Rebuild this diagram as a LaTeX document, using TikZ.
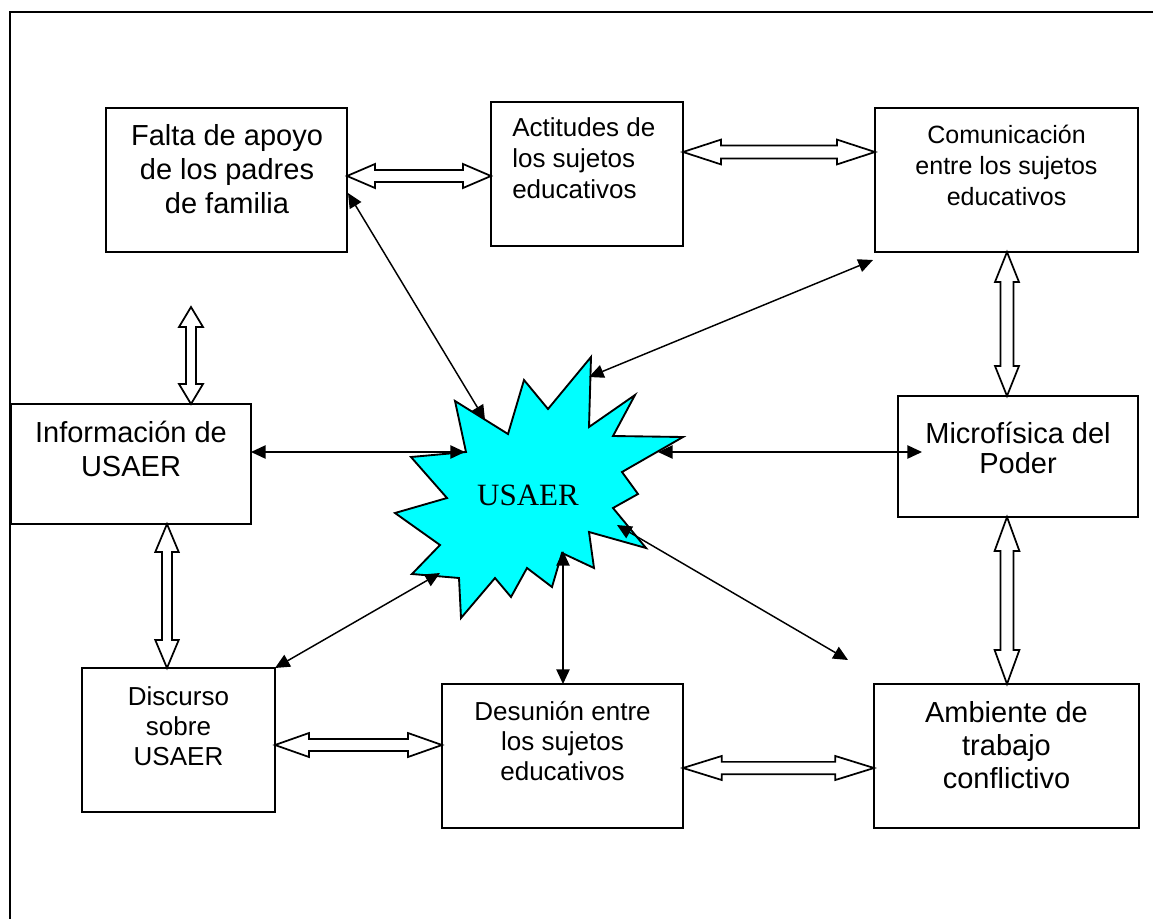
\documentclass[tikz,border=0pt]{standalone}
\usepackage{fontspec}
\setmainfont{Liberation Sans}
\newfontfamily\serifusa{Liberation Serif}
\usetikzlibrary{calc,arrows.meta}
\definecolor{burstcyan}{RGB}{0,255,255}
% horizontal hollow double arrow: #1 left point, #2 right point, #3 head length, #4 head half width, #5 shaft half width
\newcommand\dblH[5]{\draw[blockar] let \p1=(#1), \p2=(#2) in (\x1,\y1) -- (\x1+#3,\y1+#4) -- (\x1+#3,\y1+#5) -- (\x2-#3,\y1+#5) -- (\x2-#3,\y1+#4) -- (\x2,\y1) -- (\x2-#3,\y1-#4) -- (\x2-#3,\y1-#5) -- (\x1+#3,\y1-#5) -- (\x1+#3,\y1-#4) -- cycle;}
% vertical hollow double arrow: #1 top point, #2 bottom point
\newcommand\dblV[5]{\draw[blockar] let \p1=(#1), \p2=(#2) in (\x1,\y1) -- (\x1+#4,\y1-#3) -- (\x1+#5,\y1-#3) -- (\x1+#5,\y2+#3) -- (\x1+#4,\y2+#3) -- (\x1,\y2) -- (\x1-#4,\y2+#3) -- (\x1-#5,\y2+#3) -- (\x1-#5,\y1-#3) -- (\x1-#4,\y1-#3) -- cycle;}
\tikzset{
  box/.style={draw, line width=1.3pt, inner sep=0pt, outer sep=0pt},
  blockar/.style={draw, fill=white, line width=1.3pt, line join=miter},
  link/.style={line width=1.1pt, {Triangle[length=11pt,width=10pt]}-{Triangle[length=11pt,width=10pt]}},
  burst/.style={draw, fill=burstcyan, line width=1.4pt, line join=miter},
  big/.style={font=\fontsize{21.75}{25.5}\selectfont, align=center, anchor=base, inner sep=0pt},
  mid/.style={font=\fontsize{19.5}{22.5}\selectfont, align=center, anchor=base, inner sep=0pt},
}
\begin{document}
\begin{tikzpicture}[x=0.75pt, y=-0.75pt]
\useasboundingbox (0,0) rectangle (1153,918);
% outer frame
\draw[line width=1.5pt] (10,930) -- (10,12) -- (1165,12);

% boxes
\node[box, minimum width=180.75pt, minimum height=108pt] (falta) at (226.5,180) {};
\node[box, minimum width=144pt,    minimum height=108pt] (actit) at (587,174) {};
\node[box, minimum width=197.25pt, minimum height=108pt] (comun) at (1006.5,180) {};
\node[box, minimum width=180pt,    minimum height=90pt]  (info)  at (131,464) {};
\node[box, minimum width=180pt,    minimum height=90.75pt] (micro) at (1018,456.5) {};
\node[box, minimum width=144.75pt, minimum height=108pt] (disc)  at (178.5,740) {};
\node[box, minimum width=180.75pt, minimum height=108pt] (desun) at (562.5,756) {};
\node[box, minimum width=198.75pt, minimum height=108pt] (amb)   at (1006.5,756) {};

% texts (anchor = baseline of the last line)
\node[big] (falta-t) at (227,213) {Falta de apoyo\\de los padres\\de familia};
\node[font=\fontsize{19.5}{23.25}\selectfont, align=left, anchor=base west, inner sep=0pt] (actit-t) at (512,198) {Actitudes de\\los sujetos\\educativos};
\node[font=\fontsize{18.75}{23.25}\selectfont, align=center, anchor=base, inner sep=0pt] (comun-t) at (1006.5,205) {Comunicación\\entre los sujetos\\educativos};
\node[big] (info-t) at (131,476) {Información de\\USAER};
\node[font=\fontsize{21.75}{22.5}\selectfont, align=center, anchor=base, inner sep=0pt] (micro-t) at (1018,473) {Microfísica del\\Poder};
\node[mid] (disc-t) at (178.5,765) {Discurso\\sobre\\USAER};
\node[mid] (desun-t) at (562.5,780) {Desunión entre\\los sujetos\\educativos};
\node[font=\fontsize{21.75}{24.75}\selectfont, align=center, anchor=base, inner sep=0pt] (amb-t) at (1006.5,788) {Ambiente de\\trabajo\\conflictivo};

% starburst
\draw[burst] (591,357) -- (589,427) -- (635,395) -- (613,436) -- (683,437) -- (622,472)
  -- (638,494) -- (613,508) -- (646,548) -- (589,532) -- (594,568) -- (562,553)
  -- (552,587) -- (527,568) -- (511,597) -- (495,578) -- (461,618) -- (459,578)
  -- (412,574) -- (440,545) -- (395,513) -- (447,498) -- (411,457) -- (466,452)
  -- (455,401) -- (508,434) -- (524,380) -- (548,409) -- cycle;
\node[font=\serifusa\fontsize{23.25}{28}\selectfont, inner sep=0pt] (usaer) at (528,495) {USAER};

% endpoints on the starburst and free ends
\coordinate (bFalta) at (485,420);
\coordinate (bComun) at (589,377);
\coordinate (bInfo)  at (465,452);
\coordinate (bMicro) at (658,452);
\coordinate (bDisc)  at (440,573);
\coordinate (bDesun) at (563,551);
\coordinate (bFree)  at (617,525);
\coordinate (freeEnd) at (848,660);
\coordinate (freeTop) at (191,307);

% thin double arrows
\draw[link] ($(falta.east)+(1,13)$) -- (bFalta);
\draw[link] ($(comun.south west)+(-2,8)$) -- (bComun);
\draw[link] ($(info.east)+(0,-12)$) -- (bInfo);
\draw[link] (bMicro) -- ($(micro.west)+(24,-4.5)$);
\draw[link] (disc.north east) -- (bDisc);
\draw[link] (bDesun) -- ($(desun.north)+(0.5,0)$);
\draw[link] (bFree) -- (freeEnd);

% hollow block double arrows
\dblH{$(falta.east)+(0,-4)$}{$(actit.west)+(0,2)$}{21pt}{9pt}{4.5pt}
\dblH{$(actit.east)+(0,-22)$}{$(comun.west)+(0,-28)$}{28.5pt}{9.3pt}{4.8pt}
\dblV{$(comun.south)+(0.5,0)$}{$(micro.north)+(-11,0)$}{22.5pt}{9pt}{4.8pt}
\dblV{$(micro.south)+(-11,0)$}{$(amb.north)+(0.5,0)$}{25.5pt}{9.3pt}{4.8pt}
\dblH{$(desun.east)+(0,12)$}{$(amb.west)+(0,12)$}{29pt}{9pt}{4.6pt}
\dblH{$(disc.east)+(0,5)$}{$(desun.west)+(0,-11)$}{25.5pt}{9pt}{4.5pt}
\dblV{$(info.south)+(36,0)$}{$(disc.north)+(-11.5,0)$}{21pt}{8.8pt}{3.8pt}
\dblV{freeTop}{$(info.north)+(60,0)$}{15pt}{9pt}{3.8pt}
\end{tikzpicture}
\end{document}
